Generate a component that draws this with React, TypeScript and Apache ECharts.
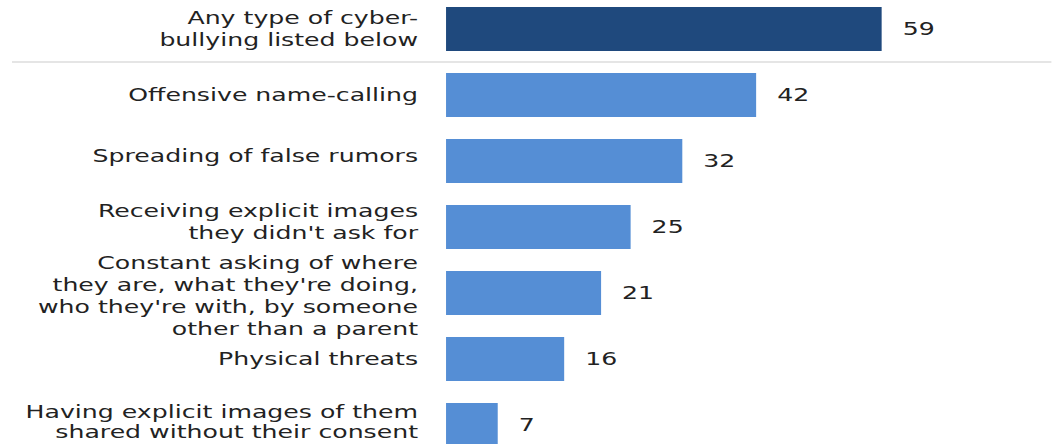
import React, { useEffect, useRef } from "react";
import * as echarts from "echarts";

const categories: string[] = [
  "Any type of cyber-\nbullying listed below",
  "Offensive name-calling",
  "Spreading of false rumors",
  "Receiving explicit images\nthey didn't ask for",
  "Constant asking of where\nthey are, what they're doing,\nwho they're with, by someone\nother than a parent",
  "Physical threats",
  "Having explicit images of them\nshared without their consent",
];
const values: number[] = [59, 42, 32, 25, 21, 16, 7];
const barColors: string[] = ["#1F497D", "#558ED5", "#558ED5", "#558ED5", "#558ED5", "#558ED5", "#558ED5"];

const STRETCH = 1.4;
const W = 1052;
const H = 444;

// vertical nudge (px; positive = up, negative = down) of each category label: styling only
const LABEL_NUDGE: number[] = [0, 0, 5, 5, -3, 0, 3];

export default function App() {
  const ref = useRef<HTMLDivElement>(null);
  useEffect(() => {
    if (!ref.current) return;
    const chart = echarts.init(ref.current, undefined, { renderer: "svg" });
    const innerW = W / STRETCH;
    const baseText = { fontSize: 18, color: "#222", fontFamily: "DejaVu Sans" };
    chart.setOption({
      animation: false,
      textStyle: { fontFamily: "DejaVu Sans" },
      grid: {
        left: 318.6,
        right: 10.5,
        top: -4,
        height: 462,
        containLabel: false,
        outerBoundsMode: "none",
      },
      xAxis: {
        type: "value",
        min: 0,
        max: 80,
        show: false,
      },
      yAxis: {
        type: "category",
        inverse: true,
        data: categories,
        axisLine: { show: false },
        axisTick: { show: false },
        splitLine: { show: false },
        axisLabel: {
          margin: 20,
          fontSize: 18,
          lineHeight: 21.8,
          color: "#222",
          align: "right",
          fontFamily: "DejaVu Sans",
          formatter: (value: string, index: number) => {
            const n = LABEL_NUDGE[index] || 0;
            const tag = index === categories.length - 1 ? "tl" : "t";
            if (n > 0) return `{${tag}|${value}}\n{sp${n}| }`;
            if (n < 0) return `{sp${-n}| }\n{${tag}|${value}}`;
            return `{${tag}|${value}}`;
          },
          rich: {
            t: { ...baseText, lineHeight: 21.8 },
            tl: { ...baseText, lineHeight: 20.5 },
            sp5: { fontSize: 1, lineHeight: 10 },
            sp3: { fontSize: 1, lineHeight: 6 },
          },
        },
      },
      graphic: [
        {
          type: "line",
          shape: { x1: 8.6, y1: 62, x2: innerW, y2: 62 },
          style: { stroke: "#dcdcdc", lineWidth: 1.5 },
          silent: true,
        },
      ],
      series: [
        {
          type: "bar",
          barWidth: 44,
          data: values.map((v, i) => ({ value: v, itemStyle: { color: barColors[i] } })),
          label: {
            show: true,
            position: "right",
            distance: 15,
            fontSize: 18,
            color: "#222",
            fontFamily: "DejaVu Sans",
          },
        },
      ],
    });
    return () => chart.dispose();
  }, []);
  return (
    <div style={{ position: "fixed", left: 0, top: 0, width: W, height: H, overflow: "hidden", background: "#fff" }}>
      <div
        ref={ref}
        style={{
          width: W / STRETCH,
          height: H,
          transform: `scaleX(${STRETCH})`,
          transformOrigin: "0 0",
        }}
      />
    </div>
  );
}
